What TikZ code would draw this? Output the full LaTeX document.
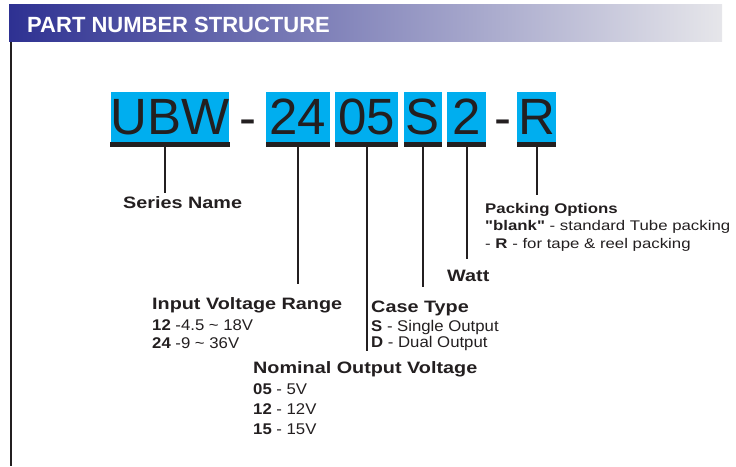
\documentclass[tikz,border=0pt]{standalone}
\usepackage{fontspec}
\setmainfont{Liberation Sans}
\usetikzlibrary{positioning}

\definecolor{ink}{HTML}{231F20}
\definecolor{segcyan}{HTML}{00AEEF}
\definecolor{hdrdark}{HTML}{2E3192}
\definecolor{hdrmid}{HTML}{6E66AB}
\definecolor{hdrlight}{HTML}{E6E6EA}

% the labels are set a little wide
\newcommand{\wideh}[1]{\scalebox{1.2}[1]{#1}}
\newcommand{\wideb}[1]{\scalebox{1.08}[1]{#1}}

\begin{document}
\begin{tikzpicture}[%
	x=1pt, y=-1pt,
	hdr/.style={left color=hdrdark, middle color=hdrmid, right color=hdrlight, inner sep=0pt, anchor=north west},
	title/.style={text=white, inner sep=0pt, anchor=base west, font=\fontsize{22}{24}\selectfont\bfseries},
	seg/.style={fill=segcyan, text=ink, inner sep=0pt, minimum height=50pt, font=\fontsize{51}{51}\selectfont},
	hyph/.style={text=ink, inner sep=0pt, anchor=base, font=\fontsize{51}{51}\selectfont},
	bar/.style={fill=ink},
	stem/.style={draw=ink, line width=2pt},
	head/.style={text=ink, inner sep=0pt, anchor=base west, font=\fontsize{16.5}{20}\selectfont\bfseries},
	body/.style={text=ink, inner sep=0pt, anchor=base west, font=\fontsize{15.5}{18}\selectfont},
	phead/.style={head, font=\fontsize{14}{16}\selectfont\bfseries},
	pbody/.style={body, font=\fontsize{14}{16}\selectfont}
]
\useasboundingbox (0,0) rectangle (736,466);

% header band and frame
\node[hdr, minimum width=713pt, minimum height=37.5pt] (band) at (9,4) {};
\node[title] (ttl) at (27,32) {PART NUMBER STRUCTURE};
\draw[ink, line width=1.5pt] (11,41.5) -- (11,466);

% part number
\node[seg, minimum width=118pt] (ubw) at (170,117) {UBW};
\node[hyph] (d1) at (247.5,135) {-};
\node[seg, minimum width=64pt] (vin) at (298,117) {24};
\node[seg, minimum width=63pt] (vout) at (366.5,117) {05};
\node[seg, minimum width=38pt] (case) at (423,117) {S};
\node[seg, minimum width=39pt] (watt) at (466.5,117) {2};
\node[hyph] (d2) at (502.5,135) {-};
\node[seg, minimum width=39pt] (pack) at (536.5,117) {R};

\foreach \s in {ubw,vin,vout,case,watt,pack}
	\fill[bar] (\s.south west) rectangle ([yshift=-5pt]\s.south east);

% labels
\node[head] (sername) at (123,208) {\wideh{Series Name}};

\node[head] (inhd) at (152,309) {\wideh{Input Voltage Range}};
\node[body, below=21pt of inhd.base west, anchor=base west] (in1) {\wideb{{\bfseries 12} -4.5 \textasciitilde{} 18V}};
\node[body, below=18pt of in1.base west, anchor=base west] (in2) {\wideb{{\bfseries 24} -9 \textasciitilde{} 36V}};

\node[head] (casehd) at (371,312) {\wideh{Case Type}};
\node[body, below=19.5pt of casehd.base west, anchor=base west] (cs1) {\wideb{{\bfseries S} - Single Output}};
\node[body, below=16pt of cs1.base west, anchor=base west] (cs2) {\wideb{{\bfseries D} - Dual Output}};

\node[head] (watthd) at (447,281.5) {\wideh{Watt}};

\node[phead] (packhd) at (485,213) {\wideh{Packing Options}};
\node[pbody, below=17.5pt of packhd.base west, anchor=base west] (pk1) {\wideh{{\bfseries \textquotedbl blank\textquotedbl} - standard Tube packing}};
\node[pbody, below=17.5pt of pk1.base west, anchor=base west] (pk2) {\wideh{- {\bfseries R} - for tape \& reel packing}};

\node[head] (outhd) at (253,373) {\wideh{Nominal Output Voltage}};
\node[body, below=21pt of outhd.base west, anchor=base west] (out1) {\wideb{{\bfseries 05} - 5V}};
\node[body, below=20pt of out1.base west, anchor=base west] (out2) {\wideb{{\bfseries 12} - 12V}};
\node[body, below=20.5pt of out2.base west, anchor=base west] (out3) {\wideb{{\bfseries 15} - 15V}};

% stems
\draw[stem, shorten >=3pt] ([xshift=-5pt]ubw.south) -- ([xshift=-5pt]ubw.south |- sername.north);
\draw[stem, shorten >=13pt] (vin.south) -- (vin.south |- inhd.north);
\draw[stem, shorten >=10pt] (vout.south) -- (vout.south |- outhd.north);
\draw[stem, shorten >=13pt] (case.south) -- (case.south |- casehd.north);
\draw[stem, shorten >=11pt] (watt.south) -- (watt.south |- watthd.north);
\draw[stem, shorten >=8pt] (pack.south) -- (pack.south |- packhd.north);

\end{tikzpicture}
\end{document}
